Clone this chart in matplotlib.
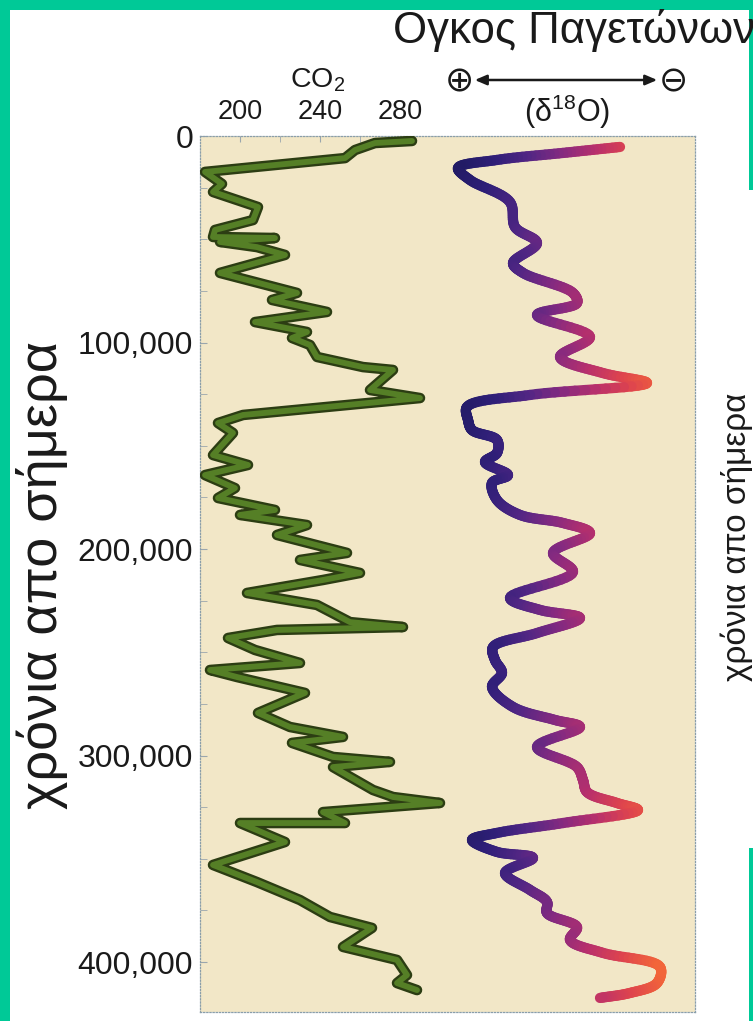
import numpy as np
import matplotlib
matplotlib.use("Agg")
import matplotlib.pyplot as plt
from matplotlib.collections import LineCollection
from matplotlib.colors import LinearSegmentedColormap, Normalize
from matplotlib.patches import Rectangle, FancyArrowPatch

plt.rcParams['font.family'] = ['Liberation Sans', 'DejaVu Sans']
plt.rcParams['mathtext.fontset'] = 'custom'
plt.rcParams['mathtext.rm'] = 'Liberation Sans'
plt.rcParams['mathtext.it'] = 'Liberation Sans:italic'

# ---------------- data ----------------
co2_age_kyr = [2.4, 3.4, 6.8, 10.7, 17.4, 23.2, 27.1, 34.4, 40.7, 45.5, 48.9, 49.4, 51.3, 53.8,
               57.6, 66.3, 76.0, 79.4, 85.2, 90.1, 94.9, 97.8, 101.2, 107.0, 111.9, 113.3, 123.0,
               126.9, 135.1, 139.0, 143.8, 154.5, 159.3, 164.2, 170.5, 175.3, 181.1, 183.5, 188.4,
               193.2, 201.9, 205.3, 211.6, 215.0, 221.3, 227.1, 235.4, 237.8, 239.2, 243.1, 248.9,
               255.2, 258.6, 262.0, 269.7, 279.4, 286.2, 291.0, 293.9, 300.7, 303.1, 305.6, 316.7,
               320.1, 323.0, 327.4, 332.7, 332.7, 341.9, 353.0, 361.3, 370.0, 378.2, 383.5, 392.7,
               399.0, 406.3, 410.2, 413.6]
co2_ppm = [286, 267.5, 257.5, 252.5, 182.5, 191, 186.5, 209, 206.5, 187.5, 186.5, 217.5, 190, 208.5,
           222.5, 190, 228.5, 216, 243.5, 207.5, 233.5, 226, 235, 238.5, 261.5, 276.5, 265,
           290, 201.5, 189, 196.5, 186.5, 204, 182.5, 197.5, 189, 217.5, 200, 233.5,
           218.5, 253.5, 230, 260, 241.5, 203.5, 238.5, 255, 281.5, 218.5, 194, 207.5,
           230, 185, 198.5, 232.5, 209, 225, 251.5, 226, 246.5, 275, 246.5, 266.5,
           276.5, 300, 241.5, 252.5, 200, 222.5, 186.5, 208.5, 230, 245, 266, 251.5,
           278.5, 283.5, 278.5, 288.5]

d18o_age_kyr = [5.3, 8.2, 11.6, 15.5, 21.3, 32.0, 44.1, 51.8, 61.5, 66.3, 76.0, 80.9, 86.7, 97.3,
                107.0, 114.8, 119.6, 125.4, 131.2, 137.5, 142.4, 147.2, 153.5, 157.9, 164.2, 168.0,
                176.3, 183.5, 187.4, 192.3, 201.9, 211.1, 223.7, 229.5, 233.4, 240.7, 247.5, 253.8,
                260.0, 266.8, 276.5, 282.8, 286.2, 295.9, 305.6, 311.9, 317.7, 323.0, 326.4, 332.7,
                337.5, 340.9, 346.7, 349.6, 356.9, 365.1, 370.9, 376.3, 383.1, 389.3, 395.6, 402.4,
                410.2, 415.0, 417.4]
d18o_rel = [8.5, 5.65, 2.35, 0.4, 1.0, 3.0, 3.25, 4.35, 3.15, 3.65, 6.15, 6.35, 4.35, 7.0,
            5.5, 7.65, 9.85, 4.0, 0.85, 0.9, 1.1, 2.35, 2.35, 1.75, 2.9, 2.1,
            2.35, 3.5, 5.65, 7.0, 5.15, 6.15, 3.0, 4.5, 6.5, 4.35, 2.15, 2.25,
            2.6, 2.1, 3.15, 5.25, 6.5, 4.35, 6.35, 6.65, 6.85, 8.35, 9.4, 5.65,
            2.35, 1.1, 2.35, 4.15, 2.75, 4.0, 4.85, 4.85, 6.35, 6.0, 7.65, 10.5,
            10.35, 9.0, 7.5]

co2_ticks = [200, 240, 280]
co2_minor_ticks = [220, 260]
age_ticks = [0, 100000, 200000, 300000, 400000]
age_tick_labels = ['0', '100,000', '200,000', '300,000', '400,000']
age_minor_ticks = [25000, 50000, 75000, 125000, 150000, 175000, 225000, 250000, 275000,
                   325000, 350000, 375000]

# ---------------- figure ----------------
W, H = 753, 1021
fig = plt.figure(figsize=(W / 100, H / 100), dpi=100)
fig.patch.set_facecolor('white')

GREEN = '#00C997'
for (x0, y0, w, h) in [(0, 0, W, 10), (0, 0, 10, H), (749, 0, 4, 190), (749, 848, 4, H - 848)]:
    fig.patches.append(Rectangle((x0 / W, 1 - (y0 + h) / H), w / W, h / H,
                                 transform=fig.transFigure, facecolor=GREEN,
                                 edgecolor='none', zorder=0))

L, R, T, B = 200, 695, 136, 1012
PX_PER_PPM = 2.0
PX_PER_KYR = 2.065
PX_PER_D18O = 20.0
ax = fig.add_axes([L / W, 1 - B / H, (R - L) / W, (B - T) / H])
ax.set_facecolor('#f2e7c7')
ax.set_ylim((B - T) / PX_PER_KYR * 1000, 0)
ax.set_xlim(180, 180 + (R - L) / PX_PER_PPM)

# second (hidden) x scale for the d18O curve
ax2 = ax.twiny()
ax2.set_xlim(-12.5, -12.5 + (R - L) / PX_PER_D18O)
ax2.set_ylim(ax.get_ylim())
ax2.axis('off')

for s in ax.spines.values():
    s.set_linestyle((0, (1, 1.5)))
    s.set_color('#8a9eaa')
    s.set_linewidth(0.9)

ax.xaxis.tick_top()
ax.xaxis.set_label_position('top')
ax.set_xticks(co2_ticks)
ax.set_xticklabels([str(v) for v in co2_ticks])
ax.set_xticks(co2_minor_ticks, minor=True)
ax.set_yticks(age_ticks)
ax.set_yticklabels(age_tick_labels)
ax.set_yticks(age_minor_ticks, minor=True)
ax.tick_params(axis='x', which='both', direction='in', length=4, color='#9aa6ad',
               labelsize=19.5, pad=8, labelcolor='#1a1a1a', top=True, bottom=False,
               labeltop=True, labelbottom=False)
ax.tick_params(axis='y', which='both', direction='in', length=5, color='#9aa6ad',
               labelsize=23, pad=5, labelcolor='#1a1a1a')

# CO2 curve
age_co2 = np.asarray(co2_age_kyr) * 1000
ax.plot(co2_ppm, age_co2, color='#2c3d13', lw=7.6, solid_joinstyle='round',
        solid_capstyle='round', zorder=3)
ax.plot(co2_ppm, age_co2, color='#557f26', lw=4.2, solid_joinstyle='round',
        solid_capstyle='round', zorder=4)

# d18O curve: smooth (centripetal Catmull-Rom through the read points), horizontal colour gradient
cmap = LinearSegmentedColormap.from_list(
    'ice', ['#211b64', '#2f1f78', '#522684', '#862a80', '#b8306c', '#de444e', '#f2653a'])
px = np.asarray(d18o_rel, dtype=float) * PX_PER_D18O
py = np.asarray(d18o_age_kyr, dtype=float) * PX_PER_KYR
P = np.column_stack([px, py])
Pext = np.vstack([2 * P[0] - P[1], P, 2 * P[-1] - P[-2]])
curve = [P[0]]
for i in range(1, len(Pext) - 2):
    p0, p1, p2, p3 = Pext[i - 1], Pext[i], Pext[i + 1], Pext[i + 2]
    def tj(ti, pa, pb):
        return ti + max(np.hypot(*(pb - pa)), 1e-6) ** 0.5
    t0 = 0.0
    t1 = tj(t0, p0, p1)
    t2 = tj(t1, p1, p2)
    t3 = tj(t2, p2, p3)
    for t in np.linspace(t1, t2, 16)[1:]:
        a1 = (t1 - t) / (t1 - t0) * p0 + (t - t0) / (t1 - t0) * p1
        a2 = (t2 - t) / (t2 - t1) * p1 + (t - t1) / (t2 - t1) * p2
        a3 = (t3 - t) / (t3 - t2) * p2 + (t - t2) / (t3 - t2) * p3
        b1 = (t2 - t) / (t2 - t0) * a1 + (t - t0) / (t2 - t0) * a2
        b2 = (t3 - t) / (t3 - t1) * a2 + (t - t1) / (t3 - t1) * a3
        curve.append((t2 - t) / (t2 - t1) * b1 + (t - t1) / (t2 - t1) * b2)
curve = np.asarray(curve)
cx = curve[:, 0] / PX_PER_D18O
cy = curve[:, 1] / PX_PER_KYR * 1000
pts = np.column_stack([cx, cy]).reshape(-1, 1, 2)
segs = np.concatenate([pts[:-1], pts[1:]], axis=1)
lc = LineCollection(segs, cmap=cmap, norm=Normalize(0.3, 10.5), linewidths=7.4,
                    capstyle='round', joinstyle='round', zorder=3)
lc.set_array(0.5 * (cx[:-1] + cx[1:]))
ax2.add_collection(lc)

# ---------------- texts ----------------
def fx(p):
    return p / W

def fy(p):
    return 1 - p / H

fig.text(fx(393), fy(31), 'Ογκος Παγετώνων', fontsize=31.5, ha='left', va='center',
         color='#1a1a1a')
fig.text(fx(318), fy(80), 'CO$_2$', fontsize=20.5, ha='center', va='center', color='#1a1a1a')
fig.text(fx(567), fy(112), '(δ$^{18}$O)', fontsize=22, ha='center', va='center',
         color='#1a1a1a')
fig.text(fx(459), fy(81), '⊕', fontsize=25, ha='center', va='center', color='#1a1a1a',
         family=['DejaVu Sans'])
fig.text(fx(673), fy(81), '⊖', fontsize=25, ha='center', va='center', color='#1a1a1a',
         family=['DejaVu Sans'])
fig.add_artist(FancyArrowPatch(
    (fx(472), fy(80)), (fx(660), fy(80)), transform=fig.transFigure,
    arrowstyle='<|-|>,head_length=7,head_width=3', lw=1.8, color='#1a1a1a',
    mutation_scale=1))
fig.text(fx(42), fy(575), 'χρόνια απο σήμερα', fontsize=39, rotation=90, ha='center',
         va='center', color='#1a1a1a')
fig.text(fx(737), fy(537), 'χρόνια απο σήμερα', fontsize=24, rotation=90, ha='center',
         va='center', color='#1a1a1a')

fig.savefig('out.png', dpi=100, facecolor='white')
